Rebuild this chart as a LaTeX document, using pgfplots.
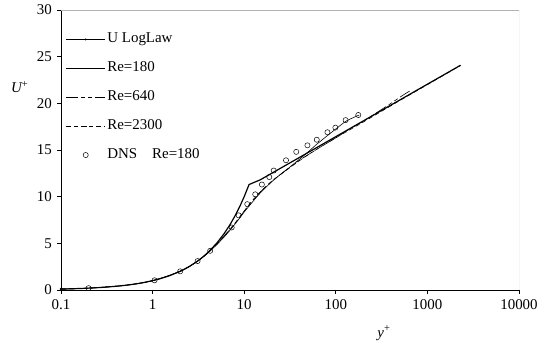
\documentclass[border=0pt]{standalone}
\usepackage{fontspec}
\setmainfont{Liberation Serif}
\usepackage{pgfplots}
\pgfplotsset{compat=1.18}
\pgfplotsset{
  longleg/.style={legend image code/.code={\draw[mark repeat=2,mark phase=2,##1] plot coordinates {(0cm,0cm) (0.68cm,0cm) (1.36cm,0cm)};}},
  dotleg/.style={legend image code/.code={\draw[##1] plot coordinates {(0.68cm,0cm)};}},
}
\begin{document}
\fontsize{15}{18}\selectfont
\begin{tikzpicture}
\begin{axis}[
  width=458bp, height=280bp, scale only axis,
  at={(0,0)}, anchor=south west,
  xmode=log, xmin=0.1, xmax=10000, ymin=0, ymax=30,
  xtick={0.1,1,10,100,1000,10000},
  xticklabels={0.1,1,10,100,1000,10000},
  xminorticks=false,
  ytick={0,5,10,15,20,25,30},
  axis lines*=left,
  axis line style={black, line width=0.8pt},
  tick align=outside, major tick length=4bp,
  tick style={black, line width=0.8pt},
  /pgf/number format/assume math mode=true,
  tick label style={font=\fontsize{15}{18}\selectfont},
  label style={font=\fontsize{15}{18}\selectfont},
  xlabel={\itshape y\upshape\textsuperscript{+}},
  xlabel style={at={(axis description cs:0.705,-0.154)}, anchor=center},
  ylabel={\itshape U\upshape\textsuperscript{+}},
  ylabel style={at={(axis description cs:-0.09,0.725)}, anchor=center, rotate=-90},
  legend cell align=left,
  legend style={draw=none, fill=none, inner sep=0pt, outer sep=0pt,
    at={(axis description cs:0.011,0.925)}, anchor=north west,
    row sep=12pt,
    nodes={inner sep=2pt, text height=10pt, text depth=3pt, font=\fontsize{15}{18}\selectfont}},
]
\draw[gray!60, line width=0.6pt] (rel axis cs:0,1) -- (rel axis cs:1,1) -- (rel axis cs:1,0);

% U LogLaw
\addplot[black, line width=1.2pt, mark=*, mark size=0.5pt, mark repeat=1000, longleg,
  legend image post style={line width=0.8pt}] coordinates {
(0.1,0.1)(0.13,0.13)(0.17,0.17)(0.2,0.2)(0.25,0.25)(0.3,0.3)(0.4,0.4)(0.5,0.5)(0.6,0.6)(0.7,0.7)(0.8,0.8)(1,1)(1.2,1.2)(1.5,1.5)(2,2)(2.5,2.5)(3,3)(3.5,3.5)(4,4)(5,5)(6,6)(7,7)(8,8)(9,9)(10,10)(11.3,11.3)
(15,11.81)(20,12.51)(50,14.74)(100,16.43)(200,18.12)(500,20.36)(1000,22.05)(2300,24.08)};
\addlegendentry{U LogLaw}

% Re=180
\addplot[black, line width=0.6pt, smooth, longleg] coordinates {
(0.1,0.1)(0.2,0.2)(0.5,0.5)(1,1)(2,2)(3,3)(4,3.95)(5,4.85)(6,5.65)(7,6.4)(8,7.1)(9,7.75)(10,8.35)(12,9.3)(15,10.4)(20,11.6)(25,12.4)(30,13.0)(40,14.0)(50,14.8)(60,15.5)(80,16.5)(100,17.25)(130,18.1)(180,18.75)};
\addlegendentry{Re=180}

% Re=640
\addplot[black, line width=0.6pt, smooth, dash pattern=on 12pt off 3pt on 4pt off 3pt on 4pt off 3pt, longleg] coordinates {
(0.1,0.1)(0.2,0.2)(0.5,0.5)(1,1)(2,2)(3,3)(4,3.97)(5,4.9)(6,5.75)(7,6.5)(8,7.2)(9,7.85)(10,8.45)(12,9.45)(15,10.5)(20,11.65)(30,13.0)(40,13.9)(50,14.5)(70,15.4)(100,16.3)(150,17.4)(200,18.1)(300,19.2)(400,20.0)(500,20.65)(600,21.15)(640,21.3)};
\addlegendentry{Re=640}

% Re=2300
\addplot[black, line width=0.6pt, smooth, dash pattern=on 4.5pt off 3pt, longleg] coordinates {
(0.1,0.1)(0.2,0.2)(0.5,0.5)(1,1)(2,2)(3,3)(4,3.97)(5,4.9)(6,5.75)(7,6.5)(8,7.2)(9,7.85)(10,8.45)(12,9.45)(15,10.5)(20,11.65)(30,12.95)(50,14.5)(100,16.3)(200,18.0)(500,20.3)(1000,22.0)(1500,23.0)(2300,24.05)};
\addlegendentry{Re=2300}

% DNS
\addplot[black, only marks, mark=o, mark size=2.6pt, line width=0.5pt, dotleg] coordinates {
(0.2,0.2)(1.05,1.04)(2,2)(3.1,3.1)(4.25,4.2)(7.3,6.7)(8.7,8.0)(10.8,9.2)(13.2,10.25)(15.6,11.3)(18.8,12.1)(21,12.8)(28.6,13.9)(37,14.8)(49,15.5)(62,16.1)(81,16.9)(99,17.4)(128,18.2)(176,18.75)};
\addlegendentry{DNS\quad Re=180}
\end{axis}
\pgfresetboundingbox
\path (-61bp,-60bp) rectangle (476bp,290bp);
\end{tikzpicture}
\end{document}
